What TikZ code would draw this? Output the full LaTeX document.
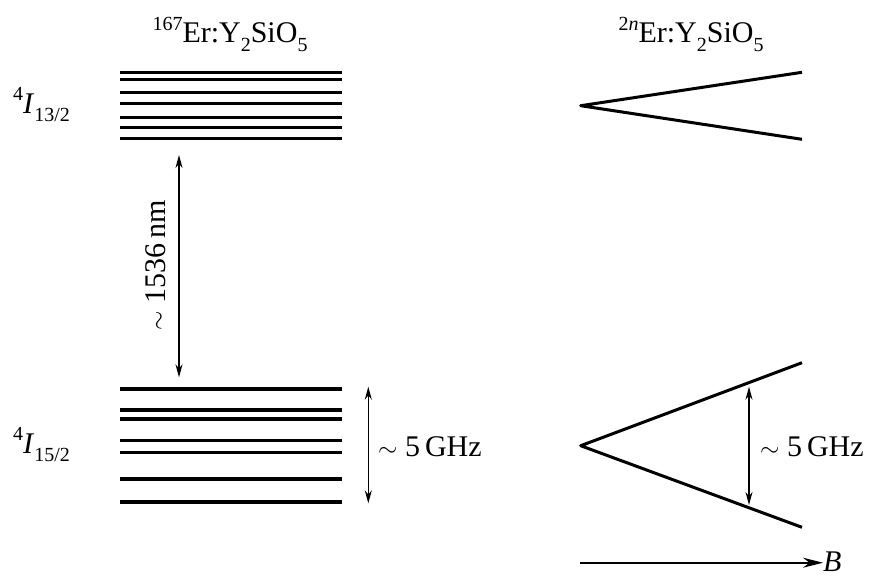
\documentclass[tikz,border=0pt]{standalone}
\usepackage{fontspec}
\setmainfont{Liberation Serif}
\usetikzlibrary{arrows.meta}
\newcommand\lowidx[1]{\raisebox{-0.28em}{\fontsize{20}{20}\selectfont #1}}
\newcommand\hiidx[1]{\raisebox{0.42em}{\fontsize{20}{20}\selectfont #1}}
\begin{document}
\begin{tikzpicture}[x=1pt,y=-1pt,
  level/.style={line width=3.3pt},
  branch/.style={line width=3pt, line join=round},
  dim/.style={line width=1.3pt,{Stealth[length=13pt,width=7pt]}-{Stealth[length=13pt,width=7pt]}},
  lbl/.style={font=\fontsize{30}{32}\selectfont, inner sep=0pt}]
\useasboundingbox (0,0) rectangle (873,576);

% hyperfine levels of 167Er
\foreach \y in {72.7,79.3,92.7,103.3,117.3,127.7,138.7}
  \draw[level] (120,\y) -- (342,\y);
\foreach \y in {389,410,419,440.3,452.7,479,502}
  \draw[level] (120,\y) -- (342,\y);

% Zeeman fans of the even isotopes
\coordinate (ut) at (802,72.3);
\coordinate (uv) at (580.7,105.7);
\coordinate (ub) at (802,139.3);
\draw[branch] (ut) -- (uv) -- (ub);
\coordinate (lt) at (802,362.7);
\coordinate (lv) at (580.7,445.7);
\coordinate (lb) at (802,527.3);
\draw[branch] (lt) -- (lv) -- (lb);

% titles
\node[lbl, anchor=base] (t1) at (230,42.7) {\hiidx{167}Er:Y\lowidx{2}SiO\lowidx{5}};
\node[lbl, anchor=base] (t2) at (691,42.7) {\hiidx{2\textit{n}}Er:Y\lowidx{2}SiO\lowidx{5}};

% manifold labels
\node[lbl, anchor=base west] (m1) at (13,113) {\hiidx{4}\textit{I}\lowidx{13/2}};
\node[lbl, anchor=base west] (m2) at (13,453) {\hiidx{4}\textit{I}\lowidx{15/2}};

% optical transition
\coordinate (oa) at (179,155);
\coordinate (ob) at (179,377.3);
\draw[dim] (oa) -- (ob);
\node[lbl, anchor=base, rotate=90] (wl) at (165,265) {$\sim$ 1536\,nm};

% hyperfine spread
\coordinate (ha) at (368.3,386.7);
\coordinate (hb) at (368.3,503.3);
\draw[dim] (ha) -- (hb);
\node[lbl, anchor=base west] (hf) at (378,456.5) {$\sim$ 5\,GHz};

% Zeeman spread
\coordinate (za) at (749,386.7);
\coordinate (zb) at (749,505);
\draw[dim] (za) -- (zb);
\node[lbl, anchor=base west] (zf) at (760,456.5) {$\sim$ 5\,GHz};

% magnetic field axis
\coordinate (b0) at (580,562.7);
\node[lbl, anchor=base west] (bl) at (823,571) {\textit{B}};
\draw[line width=1.7pt, -{Stealth[length=20pt,width=10pt]}] (b0) -- (bl.west |- b0);
\end{tikzpicture}
\end{document}
